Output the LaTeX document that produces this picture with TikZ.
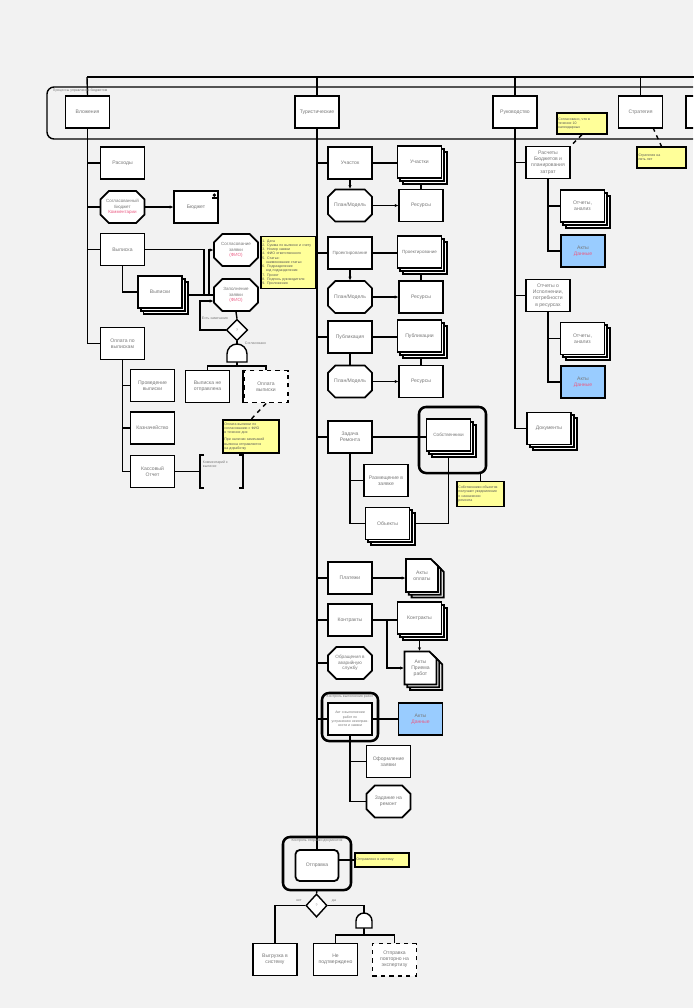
\documentclass[tikz,border=0pt]{standalone}
\usepackage{fontspec}
\setmainfont{Liberation Sans}
\usetikzlibrary{positioning, shapes.misc, shapes.geometric, shadows, calc, arrows.meta}

\definecolor{bggray}{RGB}{242,242,242}
\definecolor{notey}{RGB}{255,255,153}
\definecolor{actblue}{RGB}{153,204,255}
\definecolor{txtgray}{RGB}{120,120,120}
\definecolor{txtred}{RGB}{235,90,130}

\newcommand{\nfont}{\fontsize{3.6}{4.4}\selectfont}
\newcommand{\sfont}{\fontsize{2.5}{3}\selectfont}
\newcommand{\redtxt}[1]{\textcolor{txtred}{#1}}

\pgfdeclarelayer{bg}
\pgfsetlayers{bg,main}

\begin{document}
\begin{tikzpicture}[x=0.025cm, y=-0.025cm,
  link/.style={draw=black, line width=1pt},
  arr/.style={link, -{Stealth[length=2.5pt, width=2.2pt]}},
  box/.style={draw=black, line width=1.25pt, fill=white, minimum width=1.1cm, minimum height=0.8cm,
    inner sep=0.5pt, align=center, font=\nfont, text=txtgray},
  octbox/.style={box, chamfered rectangle, chamfered rectangle xsep=3pt, chamfered rectangle ysep=3pt},
  stack/.style={box,
    general shadow={shadow xshift=4pt, shadow yshift=-4pt, draw=black, fill=white, line width=1.25pt},
    general shadow={shadow xshift=2pt, shadow yshift=-2pt, draw=black, fill=white, line width=1.25pt}},
  docs/.style={stack, minimum width=0.8cm, minimum height=0.82cm, chamfered rectangle,
    chamfered rectangle corners=north east, chamfered rectangle xsep=2.5pt, chamfered rectangle ysep=2.5pt},
  bluebox/.style={box, fill=actblue},
  note/.style={draw=black, line width=0.9pt, fill=notey, font=\sfont, text=txtgray!70!black,
    align=left, inner sep=1pt, anchor=center},
  frm/.style={draw=black, line width=1.8pt, rounded corners=5pt, inner sep=0pt},
  diam/.style={diamond, draw=black, line width=1pt, fill=white, inner sep=0pt, font=\sfont, text=txtgray},
  gate/.style={draw=black, line width=1pt, fill=white},
  tiny/.style={font=\sfont, text=txtgray, inner sep=0.5pt}]

\begin{pgfonlayer}{bg}
\fill[bggray] (0,0) rectangle (693,1008);
\end{pgfonlayer}
\useasboundingbox (0,0) rectangle (693,1008);
\clip (0,0) rectangle (693,1008);

% top frame
\draw[line width=1pt, rounded corners=5pt] (760,87) -- (47,87) -- (47,139) -- (760,139);
\node[tiny, anchor=west] (toplbl) at (52,91) {Процессы управления бюджетом};

\node[box] (vloz) at (87.5,112) {Вложения};
\node[box] (tur) at (317,112) {Туристические};
\node[box] (ruk) at (515,112) {Руководство};
\node[box] (strat) at (640.5,112) {Стратегия};
\node[box] (fifth) at (708,112) {};
\coordinate (busL) at (87,77);

% left column
\node[box] (rash) at (122.5,163) {Расходы};
\node[octbox, font=\fontsize{3.2}{4}\selectfont] (sogbud) at (122.5,207) {Согласованный\\Бюджет\\\redtxt{Комментарии}};
\node[box] (budzh) at (196,207) {Бюджет};
\fill ([shift={(-7,7)}]budzh.north east) rectangle ([shift={(-2,9)}]budzh.north east);
\fill ([shift={(-4.5,5)}]budzh.north east) circle (1.3pt);
\node[box] (vyp) at (122.5,249.5) {Выписка};
\node[stack] (vypki) at (160,292) {Выписки};
\node[octbox, font=\fontsize{3.2}{4}\selectfont] (sogl) at (236,250) {Согласование\\заявки\\\redtxt{(ФИО)}};
\node[octbox, font=\fontsize{3.2}{4}\selectfont] (zapoln) at (236,295) {Заполнение\\заявки\\\redtxt{(ФИО)}};
\node[note, minimum width=1.375cm, minimum height=1.3cm, text width=1.3cm] (n1) at (288.5,262.5)
  {1. Дата\\2. Сумма по выписке и счету\\3. Номер заявки\\4. ФИО ответственного\\5. Статья:\\
   \quad наименование статьи\\6. Подразделение\\\quad код подразделения\\7. Проект\\
   8. Подпись руководителя\\9. Приложения};
\node[diam, minimum width=0.53cm, minimum height=0.53cm] (d1) at (237,330) {?};
\node[tiny, anchor=west] (d1no) at (201,318) {Есть замечания};
\node[tiny, anchor=west] (d1yes) at (244,343) {Согласовано};
\draw[gate] (227,362) -- (227,354) arc(180:360:10) -- (247,362) -- cycle;
\coordinate (g1top) at (237,344);
\coordinate (g1bot) at (237,362);
\coordinate (bar1) at (237,366);
\node[box] (vypotpr) at (207.5,386.5) {Выписка не\\отправлена};
\node[box, dashed, line width=1.4pt] (oplvyp) at (266,386.5) {Оплата\\выписки};
\draw[line width=2pt] (oplvyp.north west) -- (oplvyp.south west);
\node[note, minimum width=1.4cm, minimum height=0.825cm, text width=1.33cm] (n2) at (251,436.5)
  {Оплата выписки по\\согласованию с ФИО\\в течение дня\\[2pt]При наличии замечаний\\выписка отправляется\\на доработку};

\node[box] (oplotch) at (122.5,343.5) {Оплата по\\выпискам};
\node[box] (prov) at (152.5,385.5) {Проведение\\выписки};
\node[box] (kazn) at (152.5,428) {Казначейство};
\node[box] (kass) at (152.5,471.5) {Кассовый\\Отчет};
\draw[line width=1pt] (204,455) -- (200,455) -- (200,488) -- (204,488);
\draw[line width=1pt] (239,455) -- (243,455) -- (243,488) -- (239,488);
\node[tiny, anchor=north west, align=left] (brk) at (202,460) {Комментарий к\\выписке};
\coordinate (brkL) at (200,471.5);

% middle column
\node[box] (uch) at (350,163) {Участок};
\node[stack] (uchs) at (419.5,162) {Участки};
\node[octbox] (pm1) at (350,205.5) {План/Модель};
\node[box] (res1) at (421,205.5) {Ресурсы};
\node[box, font=\fontsize{3.2}{4}\selectfont] (proj) at (350,253) {Проектирование};
\node[stack, font=\fontsize{3.2}{4}\selectfont] (projs) at (419.5,252) {Проектирование};
\node[octbox] (pm2) at (350,297) {План/Модель};
\node[box] (res2) at (421,297) {Ресурсы};
\node[box] (pub) at (350,337) {Публикация};
\node[stack] (pubs) at (419.5,336) {Публикации};
\node[octbox] (pm3) at (350,381.5) {План/Модель};
\node[box] (res3) at (421,381.5) {Ресурсы};

\node[box] (zad) at (350,437) {Задача\\Ремонта};
\node[frm, minimum width=1.675cm, minimum height=1.65cm] (sobfr) at (452.5,440) {};
\node[stack, font=\fontsize{3.3}{4}\selectfont] (sobs) at (448.5,435) {Собственники};
\node[note, minimum width=1.175cm, minimum height=0.625cm, text width=1.1cm] (n3) at (480.5,494)
  {Собственники объектов\\получают уведомление\\о назначении\\ремонта};
\node[box] (razm) at (386,480.5) {Размещение в\\заявке};
\node[stack] (obj) at (387.5,523.5) {Объекты};

\node[box] (plat) at (350,578) {Платежи};
\node[docs] (akto) at (422,575.5) {Акты\\оплаты};
\node[box] (kontr) at (350,620) {Контракты};
\node[stack] (kontrs) at (419.5,618) {Контракты};
\coordinate (kj) at (387,620);
\node[docs] (aktpr) at (420.5,668) {Акты\\Приема\\работ};
\node[octbox, font=\fontsize{3.3}{4}\selectfont] (obr) at (350,663) {Обращения в\\аварийную\\службу};

\node[frm, minimum width=1.4cm, minimum height=1.2cm] (aktfr) at (350,717) {};
\node[tiny] (aktlbl) at (350,697) {Контроль выполнения работ};
\node[box, font=\sfont] (aktin) at (350,719) {Акт о выполнении\\работ по\\устранению неисправ-\\ности и заявки};
\node[bluebox] (blue1) at (420.5,719) {Акты\\\redtxt{Данные}};
\node[box] (oform) at (388.5,761.5) {Оформление\\заявки};
\node[octbox] (zadan) at (388.5,801.5) {Задание на\\ремонт};

% bottom
\node[frm, minimum width=1.7cm, minimum height=1.325cm] (otprfr) at (317,863.5) {};
\node[tiny] (otprlbl) at (317,841) {Контроль отправки документов};
\node[box, rounded corners=3pt, minimum width=1.075cm, minimum height=0.775cm] (otpr) at (317,865.5) {Отправка};
\node[note, minimum width=1.35cm, minimum height=0.35cm, text width=1.28cm] (n4) at (382,860) {Отправлено в систему};
\node[diam, minimum width=0.53cm, minimum height=0.58cm] (d2) at (316.5,905.5) {?};
\node[tiny] (d2no) at (299,901) {нет};
\node[tiny] (d2yes) at (334,901) {да};
\draw[gate] (356,928) -- (356,921) arc(180:360:8) -- (372,928) -- cycle;
\coordinate (g2top) at (364,913);
\coordinate (g2bot) at (364,928);
\coordinate (bar2) at (364,935);
\node[box] (vygr) at (275,959.5) {Выгрузка в\\систему};
\node[box] (nepod) at (335.5,959.5) {Не\\подтверждено};
\node[box, dashed, line width=1.4pt] (povt) at (394.5,959.5) {Отправка\\повторно на\\экспертизу};

% right column
\node[note, minimum width=1.25cm, minimum height=0.525cm, text width=1.18cm] (n5) at (582,123.5)
  {Согласовано, что в\\течение 10\\календарных};
\node[box] (rasch) at (548,162.5) {Расчеты\\Бюджетов и\\планирования\\затрат};
\node[stack] (otch1) at (582.5,206) {Отчеты,\\анализ};
\node[bluebox] (blue2) at (583,251) {Акты\\\redtxt{Данные}};
\node[box] (otchisp) at (548,295.5) {Отчеты о\\Исполнении,\\потребности\\в ресурсах};
\node[stack] (otch2) at (582.5,338.5) {Отчеты,\\анализ};
\node[bluebox] (blue3) at (583,382) {Акты\\\redtxt{Данные}};
\node[stack] (doks) at (549,428.5) {Документы};
\node[note, minimum width=1.225cm, minimum height=0.525cm, text width=1.15cm] (n6) at (661.5,157.5)
  {Стратегия на\\пять лет};

\begin{pgfonlayer}{bg}
% bus and trunks
\draw[link] (busL) -- (busL -| fifth.north);
\draw[link] (busL) -- (vloz.north);
\draw[link] (busL -| tur.north) -- (tur.north);
\draw[link] (busL -| ruk.north) -- (ruk.north);
\draw[link] (busL -| strat.north) -- (strat.north);
\draw[link] (busL -| fifth.north) -- (fifth.north);

% left
\draw[link] (vloz.south) |- (oplotch.west);
\draw[link] (rash.west) -- (rash.west -| vloz.south);
\draw[link] (sogbud.west) -- (sogbud.west -| vloz.south);
\draw[link] (vyp.west) -- (vyp.west -| vloz.south);
\draw[arr] (sogbud.east) -- (budzh.west);
\draw[link] (vyp.south) |- (vypki.west);
\draw[link] (vyp.east) -| (204,295) -- (zapoln.west);
\draw[link] (vypki.east |- zapoln.west) -- (zapoln.west);
\draw[arr] (209,295) |- (sogl.west);
\draw[link] (zapoln.south) -- (d1.north);
\draw[arr] (d1.west) -| (200,301) -- (zapoln.west |- 0,301);
\draw[link] (d1.south) -- (g1top);
\draw[link] (g1bot) -- (bar1);
\draw[link] (vypotpr.north) |- (bar1) -| (oplvyp.north);
\draw[link, dashed] (oplvyp.south) -- (n2.north);
\draw[link] (oplotch.south) |- (kass.west);
\draw[link] (prov.west) -- (prov.west -| oplotch.south);
\draw[link] (kazn.west) -- (kazn.west -| oplotch.south);
\draw[link] (kass.east) -- (brkL);
\draw[link] (n2.south -| 240,0) -- (240,456);

% middle
\draw[link] (tur.south) -- (otpr.north);
\foreach \nd in {uch, proj, pub, zad, plat, kontr, obr, aktin}
  \draw[link] (\nd.west -| tur.south) -- (\nd.west);
\draw[link] (uch.east) -- (uch.east -| uchs.west);
\draw[arr] (uch.south) -- (pm1.north);
\draw[arr] (pm1.east) -- (res1.west);
\draw[arr] (res1.north) -- (res1.north |- uchs.south);
\draw[link] (proj.east) -- (proj.east -| projs.west);
\draw[arr] (proj.south) -- (pm2.north);
\draw[arr] (pm2.east) -- (res2.west);
\draw[arr] (res2.north) -- (res2.north |- projs.south);
\draw[link] (pub.east) -- (pub.east -| pubs.west);
\draw[link] (pub.south) -- (pm3.north);
\draw[arr] (pm3.east) -- (res3.west);
\draw[arr] (res3.north) -- (res3.north |- pubs.south);
\draw[link] (zad.east) -- (zad.east -| sobs.west);
\draw[link] (zad.south) |- (obj.west);
\draw[link] (razm.west) -- (razm.west -| zad.south);
\draw[link] (obj.east) -| (sobs.south);
\draw[link] (n3.north) -- (n3.north |- sobfr.south);
\draw[arr] (plat.east) -- (plat.east -| akto.west);
\draw[link] (kontr.east) -- (kontr.east -| kontrs.west);
\draw[arr] (kj) |- (aktpr.west);
\draw[arr] (kontrs.south) -- (kontrs.south |- aktpr.north);
\draw[link] (aktin.east) -- (blue1.west);
\draw[link] (aktin.south) |- (zadan.west);
\draw[link] (oform.west) -- (oform.west -| aktin.south);

% bottom
\draw[link] (otpr.east |- n4.west) -- (n4.west);
\draw[link] (otprfr.south) -- (d2.north);
\draw[link] (d2.west) -| (vygr.north);
\draw[link] (d2.east) -| (g2top);
\draw[link] (g2bot) -- (bar2);
\draw[link] (nepod.north) |- (bar2) -| (povt.north);

% right
\draw[link] (ruk.south) |- (doks.west);
\draw[link] (rasch.west) -- (rasch.west -| ruk.south);
\draw[link] (otchisp.west) -- (otchisp.west -| ruk.south);
\draw[link] (rasch.south) |- (blue2.west);
\draw[link] (otch1.west) -- (otch1.west -| rasch.south);
\draw[link] (otchisp.south) |- (blue3.west);
\draw[link] (otch2.west) -- (otch2.west -| otchisp.south);
\draw[link, dashed] (n5.south) -- (rasch.north east);
\draw[link, dashed] ($(strat.center)+(9,8)$) -- (n6.north);
\end{pgfonlayer}
\end{tikzpicture}
\end{document}
